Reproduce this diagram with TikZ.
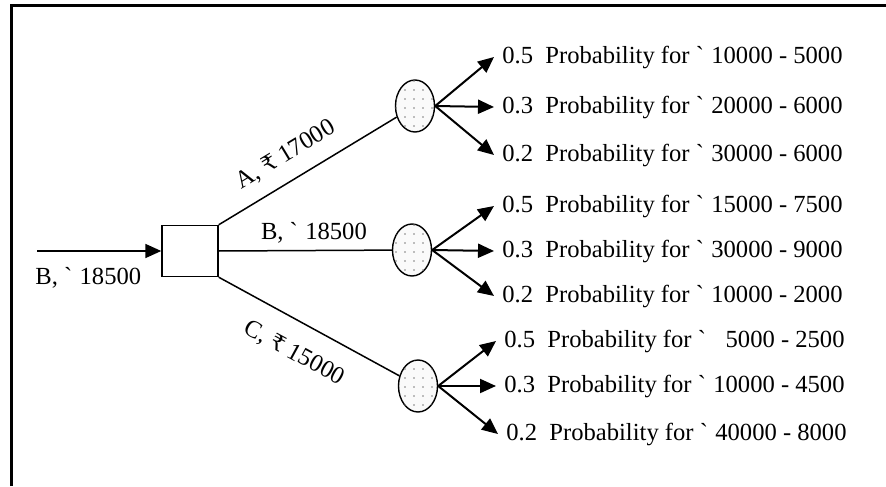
\documentclass[tikz,border=0pt]{standalone}
\usepackage{fontspec}
\setmainfont{Liberation Serif}
\newfontfamily\rupeefont{DejaVu Serif}
\usepackage{tikz}
\usetikzlibrary{arrows.meta,positioning,shapes.geometric,patterns.meta}
\newcommand{\bt}{\textasciigrave\hspace{0.3em}}
\newcommand{\rupee}{{\rupeefont\fontsize{11}{14}\selectfont ₹}}
\tikzset{
  decbox/.style={
    rectangle, draw, line width=0.7pt, fill=white,
    minimum width=28pt, minimum height=25.5pt, inner sep=0pt
  },
  chancenode/.style={
    ellipse, draw, line width=0.7pt, fill=gray!4,
    postaction={pattern={Dots[distance=4.5pt, radius=0.45pt]}, pattern color=gray},
    minimum width=19.5pt, minimum height=26pt, inner sep=0pt
  },
  branchline/.style={line width=0.75pt},
  outarrow/.style={-{Triangle[length=8pt, width=7pt]}, line width=1pt},
  problabel/.style={anchor=west, inner sep=4pt, font=\fontsize{12.3}{14}\selectfont},
  branchlabel/.style={font=\fontsize{12.3}{14}\selectfont, inner sep=2pt},
}

\begin{document}
\begin{tikzpicture}[x=0.5pt, y=-0.5pt]
  \useasboundingbox (0,0) rectangle (886,486);
  % frame
  \draw[line width=1.5pt] (11,486) -- (11,6) -- (886,6);

  \coordinate (in) at (37,251);
  \node[decbox] (dec) at (190,251) {};
  \node[branchlabel, anchor=west] (inlbl) at (31,278) {B, \bt 18500};
  \draw[outarrow, line width=0.9pt] (in) -- (dec);

  \node[chancenode] (chA) at (415,106) {};
  \node[chancenode] (chB) at (412,250) {};
  \node[chancenode] (chC) at (418,386) {};

  \draw[branchline] (dec.north east) -- node[branchlabel, sloped, above=5pt, pos=0.45] (lblA) {A, \rupee\ 17000} (chA);
  \draw[branchline] (dec.east) -- node[branchlabel, above, pos=0.55, yshift=1pt] (lblB) {B, \bt 18500} (chB);
  \draw[branchline] (dec.south east) -- node[branchlabel, sloped, below=8pt, pos=0.5] (lblC) {C, \rupee\ 15000} (chC);

  % outcomes
  \foreach \ch/\n/\x/\y/\txt in {
      chA/a1/494/57/{0.5\ \ Probability for \bt 10000 - 5000},
      chA/a2/494/107/{0.3\ \ Probability for \bt 20000 - 6000},
      chA/a3/494/155/{0.2\ \ Probability for \bt 30000 - 6000},
      chB/b1/494/206/{0.5\ \ Probability for \bt 15000 - 7500},
      chB/b2/494/251/{0.3\ \ Probability for \bt 30000 - 9000},
      chB/b3/494/296/{0.2\ \ Probability for \bt 10000 - 2000},
      chC/c1/496/341/{0.5\ \ Probability for \bt\ \ 5000 - 2500},
      chC/c2/496/386/{0.3\ \ Probability for \bt 10000 - 4500},
      chC/c3/498/434/{0.2\ \ Probability for \bt 40000 - 8000}}
  {
    \node[problabel] (\n) at (\x,\y) {\txt};
    \draw[outarrow] (\ch.east) -- (\n.west);
  }
\end{tikzpicture}
\end{document}
